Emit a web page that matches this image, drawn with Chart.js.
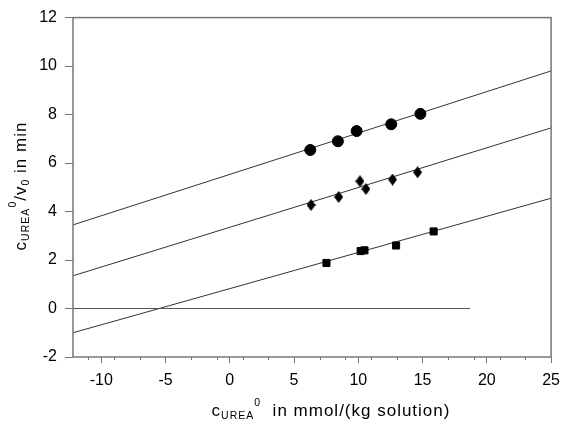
<!DOCTYPE html>
<html>
<head>
<meta charset="utf-8">
<script src="https://cdn.jsdelivr.net/npm/chart.js@4"></script>
<style>
  html, body { margin: 0; padding: 0; background: #fff; }
</style>
</head>
<body>
<canvas id="ureaChart" width="568" height="429"></canvas>
<script>
const circleX = [6.26, 8.41, 9.87, 12.56, 14.83];
const circleY = [6.54, 6.90, 7.32, 7.60, 8.03];
const diamondX = [6.32, 8.47, 10.13, 10.59, 12.66, 14.61];
const diamondY = [4.27, 4.60, 5.25, 4.93, 5.32, 5.62];
const squareX = [7.52, 10.18, 10.48, 12.94, 15.86];
const squareY = [1.88, 2.37, 2.40, 2.60, 3.18];

// fitted straight lines, start and end
const fitX = [-12.2, 25];
const topFitY = [3.45, 9.8];
const midFitY = [1.35, 7.45];
const lowFitY = [-1.0, 4.55];
const zeroX = [-12.2, 18.7];
const zeroY = [0, 0];

const xTicks = [-10, -5, 0, 5, 10, 15, 20, 25];
const xMinorTicks = [-11, -9, -7, -3, -1, 1, 3, 7, 9, 11, 13, 17, 19, 21, 23];
const yTicks = [-2, 0, 2, 4, 6, 8, 10, 12];

const pts = (xs, ys) => xs.map((x, i) => ({ x: x, y: ys[i] }));

// taller-than-wide diamond marker
function makeDiamond(w, h) {
  const c = document.createElement('canvas');
  c.width = w; c.height = h;
  const g = c.getContext('2d');
  g.fillStyle = '#000';
  g.beginPath();
  g.moveTo(w / 2, 0);
  g.lineTo(w, h / 2);
  g.lineTo(w / 2, h);
  g.lineTo(0, h / 2);
  g.closePath();
  g.fill();
  return c;
}
const diamond = makeDiamond(9, 12);

const FONT = '"Liberation Sans", Arial, sans-serif';

// draws text pieces with sub/superscripts
function drawRich(ctx, parts, size) {
  let total = 0;
  parts.forEach(p => {
    ctx.font = (p.s ? size * 0.62 : size) + 'px ' + FONT;
    p.w = ctx.measureText(p.t).width;
    total += p.w;
  });
  let x = -total / 2;
  parts.forEach(p => {
    ctx.font = (p.s ? size * 0.62 : size) + 'px ' + FONT;
    let dy = 0;
    if (p.s === 'sub') dy = size * 0.28;
    if (p.s === 'sup') dy = -size * 0.45;
    ctx.fillText(p.t, x, dy);
    x += p.w;
  });
}

const framePlugin = {
  id: 'frame',
  afterDraw(chart) {
    const { ctx, chartArea: a, scales } = chart;
    ctx.save();
    ctx.strokeStyle = '#777';
    ctx.lineWidth = 1.5;
    ctx.strokeRect(a.left, a.top, a.right - a.left, a.bottom - a.top);

    // minor ticks on the x axis
    ctx.lineWidth = 1;
    xMinorTicks.forEach(v => {
      const px = Math.round(scales.x.getPixelForValue(v)) + 0.5;
      ctx.beginPath();
      ctx.moveTo(px, a.bottom);
      ctx.lineTo(px, a.bottom + 3);
      ctx.stroke();
    });

    ctx.fillStyle = '#000';
    ctx.textBaseline = 'middle';
    ctx.textAlign = 'left';
    ctx.letterSpacing = '1px';

    // x title
    ctx.save();
    ctx.translate(331, 411);
    drawRich(ctx, [
      { t: 'c' }, { t: 'UREA', s: 'sub' }, { t: '0', s: 'sup' },
      { t: '  in mmol/(kg solution)' }
    ], 17);
    ctx.restore();

    // y title
    ctx.save();
    ctx.translate(21, 186);
    ctx.rotate(-Math.PI / 2);
    drawRich(ctx, [
      { t: 'c' }, { t: 'UREA', s: 'sub' }, { t: '0', s: 'sup' },
      { t: '/v' }, { t: '0', s: 'sub' }, { t: ' in min' }
    ], 17);
    ctx.restore();

    ctx.restore();
  }
};

const lineSet = (xs, ys, color) => ({
  type: 'line',
  data: pts(xs, ys),
  borderColor: color,
  borderWidth: 1,
  pointRadius: 0,
  fill: false,
  order: 2
});

new Chart(document.getElementById('ureaChart'), {
  type: 'scatter',
  data: {
    datasets: [
      lineSet(zeroX, zeroY, '#555'),
      lineSet(fitX, topFitY, '#333'),
      lineSet(fitX, midFitY, '#333'),
      lineSet(fitX, lowFitY, '#333'),
      {
        data: pts(circleX, circleY),
        pointStyle: 'circle',
        pointRadius: 5.5,
        backgroundColor: '#000',
        borderColor: '#000',
        order: 1
      },
      {
        data: pts(diamondX, diamondY),
        pointStyle: diamond,
        backgroundColor: '#000',
        borderColor: '#000',
        order: 1
      },
      {
        data: pts(squareX, squareY),
        pointStyle: 'rect',
        pointRadius: 5,
        backgroundColor: '#000',
        borderColor: '#000',
        order: 1
      }
    ]
  },
  options: {
    responsive: false,
    animation: false,
    devicePixelRatio: 1,
    layout: { padding: { top: 15, right: 11, left: 0, bottom: 0 } },
    plugins: {
      legend: { display: false },
      tooltip: { enabled: false }
    },
    scales: {
      x: {
        type: 'linear',
        min: -12.2,
        max: 25,
        afterBuildTicks: s => { s.ticks = xTicks.map(v => ({ value: v })); },
        afterFit: s => { s.height = 72; },
        border: { display: false },
        grid: { drawOnChartArea: false, drawTicks: true, tickLength: 6, color: '#777' },
        ticks: { color: '#000', padding: 8, maxRotation: 0, font: { family: FONT, size: 16 } }
      },
      y: {
        min: -2,
        max: 12,
        afterBuildTicks: s => { s.ticks = yTicks.map(v => ({ value: v })); },
        afterFit: s => { s.width = 73; },
        border: { display: false },
        grid: { drawOnChartArea: false, drawTicks: true, tickLength: 8, color: '#777' },
        ticks: { color: '#000', padding: 8, font: { family: FONT, size: 16 } }
      }
    }
  },
  plugins: [framePlugin]
});
</script>
</body>
</html>
